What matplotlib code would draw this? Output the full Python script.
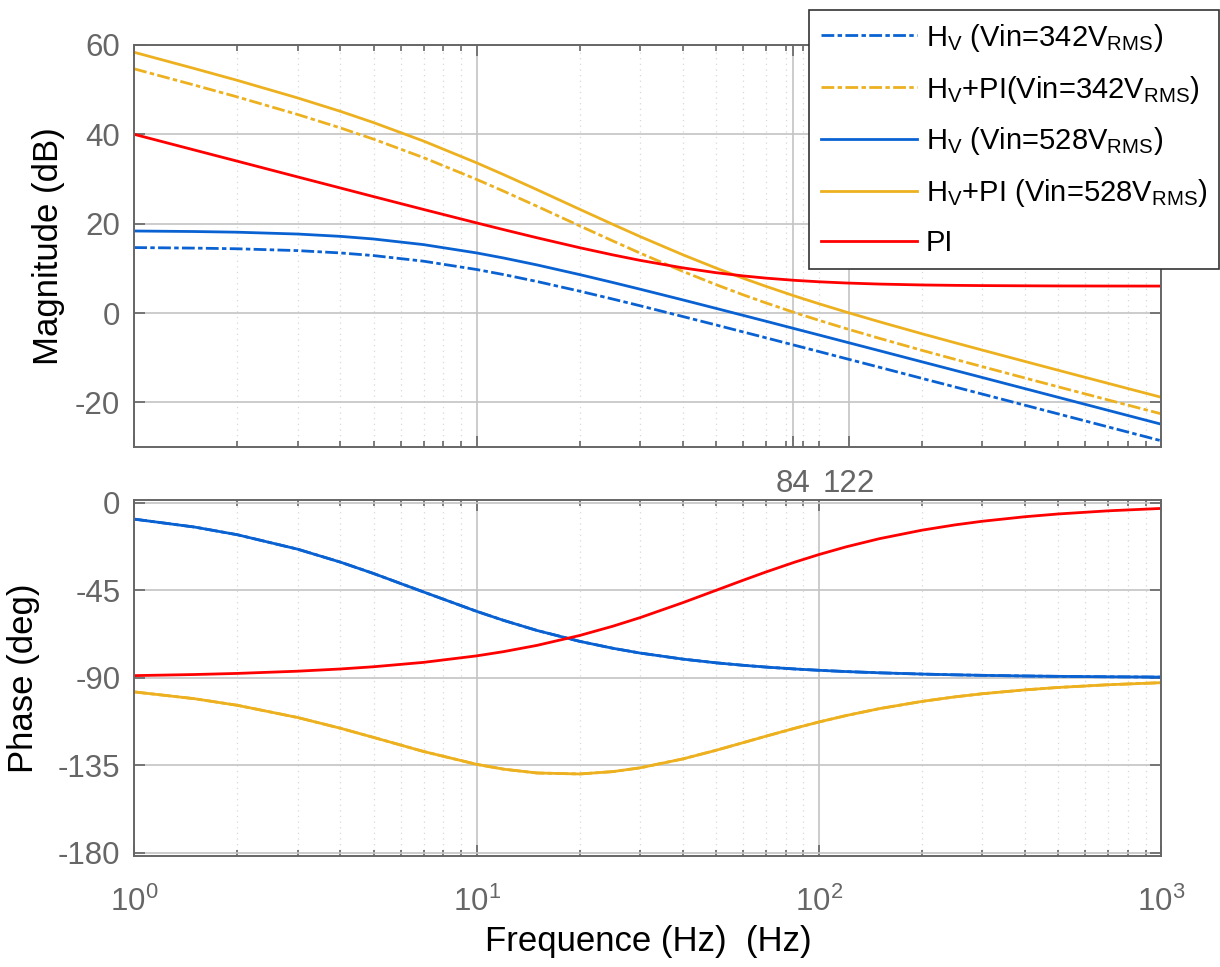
import matplotlib
matplotlib.use('Agg')
import matplotlib.pyplot as plt
from matplotlib.ticker import FixedLocator, NullFormatter, LogFormatterMathtext

plt.rcParams['font.family'] = ['Liberation Sans', 'DejaVu Sans']
plt.rcParams['mathtext.fontset'] = 'custom'
plt.rcParams['mathtext.rm'] = 'Liberation Sans'
plt.rcParams['mathtext.default'] = 'rm'
plt.rcParams['axes.unicode_minus'] = False

# values
freq = [1, 1.5, 2, 3, 4, 5, 7, 10, 12, 15, 20, 25, 30, 40, 50, 60, 70, 85,
        100, 120, 150, 200, 250, 300, 400, 500, 700, 1000]

mag_hv342 = [14.65, 14.53, 14.38, 13.97, 13.45, 12.86, 11.60, 9.74, 8.60, 7.06,
             4.89, 3.12, 1.63, -0.78, -2.67, -4.23, -5.55, -7.23, -8.63, -10.21,
             -12.14, -14.64, -16.57, -18.15, -20.65, -22.59, -25.51, -28.61]
mag_hv528 = [18.36, 18.24, 18.09, 17.68, 17.16, 16.57, 15.31, 13.45, 12.31, 10.77,
             8.60, 6.83, 5.34, 2.94, 1.04, -0.52, -1.84, -3.52, -4.92, -6.50,
             -8.43, -10.93, -12.86, -14.44, -16.94, -18.88, -21.80, -24.90]
mag_hvpi342 = [54.65, 51.01, 48.37, 44.44, 41.44, 38.92, 34.78, 29.91, 27.26, 23.91,
               19.51, 16.13, 13.42, 9.33, 6.36, 4.08, 2.26, 0.08, -1.64, -3.49,
               -5.66, -8.36, -10.38, -12.01, -14.56, -16.53, -19.47, -22.58]
mag_hvpi528 = [58.36, 54.72, 52.08, 48.15, 45.15, 42.63, 38.49, 33.62, 30.97, 27.62,
               23.22, 19.84, 17.13, 13.05, 10.07, 7.79, 5.97, 3.79, 2.07, 0.22,
               -1.95, -4.65, -6.67, -8.30, -10.85, -12.82, -15.76, -18.87]
mag_pi = [40.00, 36.48, 33.99, 30.47, 27.99, 26.06, 23.18, 20.17, 18.66, 16.85,
          14.62, 13.01, 11.79, 10.11, 9.03, 8.31, 7.81, 7.31, 6.99, 6.72,
          6.48, 6.28, 6.19, 6.14, 6.09, 6.06, 6.04, 6.03]

phase_hv = [-8.37, -12.44, -16.39, -23.81, -30.47, -36.33, -45.83, -55.78, -60.46,
            -65.61, -71.22, -74.78, -77.23, -80.35, -82.26, -83.53, -84.45, -85.43,
            -86.11, -86.76, -87.40, -88.05, -88.44, -88.70, -89.03, -89.22,
            -89.44, -89.61]
phase_pi = [-88.85, -88.28, -87.71, -86.57, -85.43, -84.29, -82.03, -78.69, -76.50,
            -73.30, -68.20, -63.43, -59.04, -51.34, -45.00, -39.81, -35.54, -30.47,
            -26.57, -22.62, -18.43, -14.04, -11.31, -9.46, -7.13, -5.71,
            -4.09, -2.86]
phase_hvpi = [-97.22, -100.72, -104.10, -110.38, -115.90, -120.62, -127.86, -134.47,
              -136.96, -138.91, -139.42, -138.21, -136.27, -131.69, -127.26,
              -123.34, -119.99, -115.90, -112.68, -109.38, -105.83, -102.09,
              -99.75, -98.16, -96.16, -94.93, -93.53, -92.47]

labels = ['H$_{V}$ (Vin=342V$_{RMS}$)',
          'H$_{V}$+PI(Vin=342V$_{RMS}$)',
          'H$_{V}$ (Vin=528V$_{RMS}$)',
          'H$_{V}$+PI (Vin=528V$_{RMS}$)',
          'PI']

blue = '#0A62D2'
orange = '#EDB120'
red = '#FF0000'
dashdot = (0, (4.6, 1.2, 1.6, 1.2))
lw = 2.0
gray = '#666666'

fig = plt.figure(figsize=(12.2, 9.67), dpi=100)
ax1 = fig.add_axes([0.110, 0.5377, 0.842, 0.4158])
ax2 = fig.add_axes([0.110, 0.1150, 0.842, 0.3680])

l1, = ax1.plot(freq, mag_hv342, color=blue, lw=lw, ls=dashdot)
l2, = ax1.plot(freq, mag_hvpi342, color=orange, lw=lw, ls=dashdot)
l3, = ax1.plot(freq, mag_hv528, color=blue, lw=lw)
l4, = ax1.plot(freq, mag_hvpi528, color=orange, lw=lw)
l5, = ax1.plot(freq, mag_pi, color=red, lw=lw)

ax2.plot(freq, phase_hv, color=blue, lw=lw, ls=dashdot)
ax2.plot(freq, phase_hvpi, color=orange, lw=lw, ls=dashdot)
ax2.plot(freq, phase_hv, color=blue, lw=lw)
ax2.plot(freq, phase_hvpi, color=orange, lw=lw)
ax2.plot(freq, phase_pi, color=red, lw=lw)

minors = [k * 10 ** d for d in range(3) for k in range(2, 10)]

for ax in (ax1, ax2):
    ax.set_xscale('log')
    ax.set_xlim(1, 1000)
    ax.tick_params(which='both', direction='in', top=True, right=True,
                   colors=gray, labelsize=22.5, width=1.2)
    ax.tick_params(which='major', length=8, pad=10)
    ax.tick_params(which='minor', length=4)
    ax.grid(True, which='major', color='#c4c4c4', lw=1.2)
    ax.grid(True, which='minor', color='#d8d8d8', lw=0.9, ls=(0, (1, 3.5)))
    for s in ax.spines.values():
        s.set_color(gray)
        s.set_linewidth(1.4)
    ax.set_axisbelow(True)

ax1.xaxis.set_major_locator(FixedLocator([1, 10, 84, 122, 1000]))
ax1.xaxis.set_minor_locator(FixedLocator(minors + [100]))
ax1.set_xticklabels(['', '', '84', '122', ''])
ax1.xaxis.set_minor_formatter(NullFormatter())
ax1.tick_params(axis='x', which='major', pad=16)
ax1.set_ylim(-30, 60)
ax1.set_yticks([-20, 0, 20, 40, 60])
ax1.set_ylabel('Magnitude (dB)', fontsize=25, labelpad=7)

ax2.xaxis.set_major_locator(FixedLocator([1, 10, 100, 1000]))
ax2.xaxis.set_minor_locator(FixedLocator(minors))
ax2.xaxis.set_major_formatter(LogFormatterMathtext())
ax2.xaxis.set_minor_formatter(NullFormatter())
ax2.tick_params(axis='x', which='major', pad=22)
ax2.set_ylim(-181.5, 1.5)
ax2.set_yticks([0, -45, -90, -135, -180])
ax2.set_ylabel('Phase (deg)', fontsize=25, labelpad=13)
ax2.set_xlabel('Frequence (Hz)  (Hz)', fontsize=25, labelpad=5)

leg = fig.legend([l1, l2, l3, l4, l5], labels, loc='upper right',
                 bbox_to_anchor=(1219 / 1220, 1 - 10 / 967), fontsize=21,
                 handlelength=3.3, handletextpad=0.3, labelspacing=0.68,
                 borderaxespad=0, fancybox=False, framealpha=1,
                 edgecolor='#333333', borderpad=0.4)
leg.get_frame().set_linewidth(1.2)

fig.savefig('out.png', dpi=100)
